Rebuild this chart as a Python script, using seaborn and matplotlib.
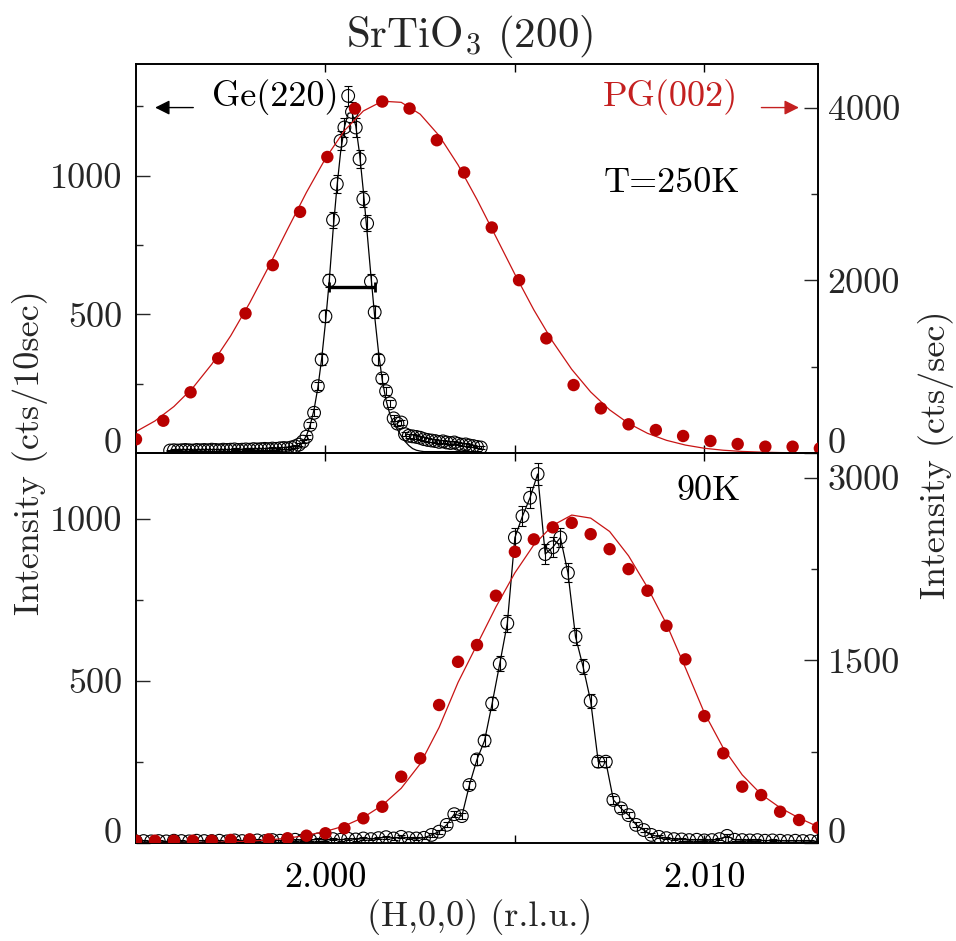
import numpy as np
import matplotlib
matplotlib.use("Agg")
import matplotlib.pyplot as plt
import seaborn as sns
from matplotlib.ticker import FixedLocator, FuncFormatter

# ---------------- data ----------------
# Top panel, T = 250 K
# Ge(220) analyser, cts/10sec (left axis), scan step 0.0001 from 1.9959 to 2.0041
ge250_x = np.round(np.arange(19959, 20042) * 1e-4, 4)
ge250_y = [9, 10, 9, 10, 11, 10, 9, 11, 10, 11,
           10, 12, 11, 10, 12, 11, 12, 13, 11, 12,
           13, 12, 14, 13, 14, 15, 14, 16, 15, 17, 18,
           17, 20, 24, 30, 41, 59, 101, 145, 241, 337,
           493, 622, 841, 970, 1126, 1174, 1288, 1230, 1174, 1060,
           916, 828, 619, 508, 337, 269, 223, 179, 125, 106,
           110, 68, 62,
           60, 58, 55, 50, 47, 45, 43, 40, 42, 38,
           36, 38, 33, 30, 31, 27, 25, 22, 20]
ge250_fit_x = [1.9959, 1.9986, 1.9988, 1.9990, 1.9991, 1.9992, 1.9993, 1.9994,
               1.9995, 1.9996, 1.9997, 1.9998, 1.9999, 2.0000, 2.0001, 2.0002,
               2.0003, 2.0004, 2.0005, 2.0006, 2.0007, 2.0008, 2.0009, 2.0010,
               2.0011, 2.0012, 2.0013, 2.0014, 2.0015, 2.0016, 2.0017, 2.0018,
               2.0019, 2.0020, 2.0021, 2.0022, 2.0023, 2.0024, 2.0025, 2.0026,
               2.0041]
ge250_fit_y = [5, 5, 6, 7, 10, 15, 24, 39,
               63, 102, 157, 236, 340, 470, 620, 800,
               955, 1085, 1175, 1225, 1228, 1180, 1080, 945,
               795, 640, 492, 365, 262, 190, 140, 105,
               85, 62, 42, 27, 16, 10, 7, 5,
               5]
# resolution (FWHM) bar of the Ge(220) peak
fwhm_center, fwhm_half, fwhm_level = 2.0007, 0.0006, 600

# PG(002) analyser, cts/sec (right axis)
pg250_x = [1.99500, 1.99572, 1.99644, 1.99717, 1.99789, 1.99861, 1.99933,
           2.00005, 2.00078, 2.00150, 2.00222, 2.00294, 2.00366, 2.00439,
           2.00511, 2.00583, 2.00655, 2.00727, 2.00800, 2.00872, 2.00944,
           2.01016, 2.01088, 2.01161, 2.01233, 2.01305]
pg250_y = [159, 374, 703, 1096, 1617, 2176, 2793, 3429, 3990, 4071,
           3990, 3623, 3249, 2612, 2002, 1328, 787, 517, 332, 266,
           197, 139, 104, 73, 73, 54]
pg250_fit_x = np.round(np.arange(39900, 40261, 10) * 5e-5, 4)
pg250_fit_y = [248, 371, 538, 755, 1029, 1358, 1738, 2156, 2592, 3020,
               3411, 3734, 3962, 4075, 4062, 3925, 3676, 3337, 2936, 2504,
               2070, 1658, 1289, 969, 707, 500, 343, 228, 147, 92,
               55, 32, 18, 10, 5, 3, 1]

# Bottom panel, T = 90 K
ge90_x = np.round(np.arange(9975, 10066) * 2e-4, 4)
ge90_y = [5, 6, 5, 6, 5, 7, 6, 5, 7, 6,
          6, 7, 5, 8, 6, 7, 8, 6, 9, 7,
          8, 10, 8, 9, 11, 9, 12, 10, 13, 11,
          14, 12, 15, 18, 14, 19, 15, 14, 16, 25,
          35, 56, 89, 83, 179, 258, 316, 431, 553, 678,
          943, 1009, 1066, 1139, 892, 913, 943, 834, 637, 544,
          438, 251, 251, 133, 107, 86, 56, 40, 25, 19,
          15, 12, 11, 9, 10, 8, 9, 12, 22, 10,
          9, 8, 9, 7, 8, 7, 6, 7, 6, 6, 5]
pg90_x = np.round(np.arange(3990, 4027) * 5e-4, 4)
pg90_y = [19, 19, 19, 19, 19, 25, 30, 30, 39, 60,
          80, 121, 203, 298, 545, 696, 1134, 1489, 1627, 2032,
          2393, 2495, 2594, 2631, 2538, 2415, 2251, 2073, 1785, 1509,
          1043, 737, 463, 394, 257, 189, 126]
pg90_fit_x = pg90_x
pg90_fit_y = [0, 1, 2, 3, 5, 9, 15, 25, 40, 62,
              95, 140, 210, 310, 450, 650, 950, 1320, 1630, 1940,
              2220, 2450, 2610, 2695, 2670, 2560, 2360, 2100, 1800, 1440,
              1070, 780, 560, 400, 290, 205, 134]

x_ticks = [2.000, 2.005, 2.010]
x_ticklabels = ["2.000", "", "2.010"]

# ---------------- style ----------------
sns.set_theme(style="ticks")
plt.rcParams["font.family"] = ["cmr10", "DejaVu Serif"]
plt.rcParams["mathtext.fontset"] = "cm"
plt.rcParams["axes.formatter.use_mathtext"] = True
plt.rcParams["axes.unicode_minus"] = False

RED = "#b80000"
RED_LINE = "#c81414"
FS = 26

W, H = 956, 941
fig = plt.figure(figsize=(W / 100, H / 100), dpi=100)
L, R = 136 / W, 818 / W
ax1 = fig.add_axes([L, 1 - 453 / H, R - L, (453 - 64) / H])
ax2 = fig.add_axes([L, 1 - 843 / H, R - L, (843 - 453) / H], sharex=ax1)
ax1r = ax1.twinx()
ax2r = ax2.twinx()

int_fmt = FuncFormatter(lambda v, p: f"{v:.0f}")


def draw_ge(ax, x, y, line_x, line_y):
    sns.lineplot(x=line_x, y=line_y, ax=ax, color="black", lw=0.9,
                 estimator=None, sort=False, zorder=2)
    ax.errorbar(x, y, yerr=np.sqrt(np.asarray(y, float)), fmt="none",
                ecolor="black", elinewidth=0.8, capsize=2.6, capthick=0.8,
                zorder=3)
    sns.scatterplot(x=x, y=y, ax=ax, marker="o", s=84, facecolor="none",
                    edgecolor="black", linewidth=0.8, zorder=4)


def draw_pg(ax, x, y, fx, fy):
    sns.lineplot(x=fx, y=fy, ax=ax, color=RED_LINE, lw=0.9,
                 estimator=None, sort=False, zorder=2)
    sns.scatterplot(x=x, y=y, ax=ax, marker="o", s=80, color=RED,
                    edgecolor="none", linewidth=0, zorder=3)


draw_ge(ax1, ge250_x, ge250_y, ge250_fit_x, ge250_fit_y)
ax1.errorbar([fwhm_center], [fwhm_level], xerr=[fwhm_half], fmt="none",
             ecolor="black", elinewidth=2.4, capsize=3.5, capthick=2.0, zorder=5)
draw_pg(ax1r, pg250_x, pg250_y, pg250_fit_x, pg250_fit_y)

draw_ge(ax2, ge90_x, ge90_y, ge90_x, ge90_y)
draw_pg(ax2r, pg90_x, pg90_y, pg90_fit_x, pg90_fit_y)

# ---------------- axes ----------------
ax1.set_xlim(1.995, 2.013)
ax1.set_ylim(0, 1403)
ax1r.set_ylim(0, 4506)
ax2.set_ylim(0, 1204)
ax2r.set_ylim(0, 3205)

for ax in (ax1, ax2, ax1r, ax2r):
    ax.set_xlabel("")
    ax.set_ylabel("")
    for sp in ax.spines.values():
        sp.set_linewidth(1.2)
        sp.set_color("black")

ax1.yaxis.set_major_locator(FixedLocator([0, 500, 1000]))
ax1.yaxis.set_minor_locator(FixedLocator([250, 750, 1250]))
ax2.yaxis.set_major_locator(FixedLocator([0, 500, 1000]))
ax2.yaxis.set_minor_locator(FixedLocator([250, 750]))
ax1r.yaxis.set_major_locator(FixedLocator([0, 2000, 4000]))
ax1r.yaxis.set_minor_locator(FixedLocator([1000, 3000]))
ax2r.yaxis.set_major_locator(FixedLocator([0, 1500, 3000]))
ax2r.yaxis.set_minor_locator(FixedLocator([750, 2250]))
for ax in (ax1, ax2, ax1r, ax2r):
    ax.yaxis.set_major_formatter(int_fmt)

ax2.xaxis.set_major_locator(FixedLocator(x_ticks))
ax2.set_xticklabels(x_ticklabels)

for ax in (ax1, ax2):
    ax.tick_params(axis="x", which="both", direction="in", top=True,
                   bottom=True, length=6, width=1, labelsize=FS, pad=14,
                   colors="black")
    ax.tick_params(axis="y", which="major", direction="in", left=True,
                   right=False, length=10, width=1, labelsize=FS, pad=10)
    ax.tick_params(axis="y", which="minor", direction="in", left=True,
                   right=False, length=5, width=1)
for ax in (ax1r, ax2r):
    ax.tick_params(axis="y", which="major", direction="in", right=True,
                   left=False, length=10, width=1, labelsize=FS, pad=7)
    ax.tick_params(axis="y", which="minor", direction="in", right=True,
                   left=False, length=5, width=1)
ax1.tick_params(axis="x", labelbottom=False)

# the zero labels sit a little higher, as in the original
for ax in (ax1, ax2):
    ax.yaxis.get_major_ticks()[0].label1.set_verticalalignment("baseline")
for ax in (ax1r, ax2r):
    ax.yaxis.get_major_ticks()[0].label2.set_verticalalignment("baseline")

# ---------------- annotations ----------------
ax1.text(0.1114, 0.915, "Ge(220)", transform=ax1.transAxes, fontsize=FS,
         ha="left", va="center", color="black")
ax1.annotate("", xy=(0.028, 0.888), xytext=(0.084, 0.888),
             xycoords="axes fraction", textcoords="axes fraction",
             arrowprops=dict(arrowstyle="-|>", color="black", lw=1.0,
                             mutation_scale=22, shrinkA=0, shrinkB=0))
ax1.text(0.883, 0.915, "PG(002)", transform=ax1.transAxes, fontsize=FS,
         ha="right", va="center", color="#c42020")
ax1.annotate("", xy=(0.972, 0.888), xytext=(0.917, 0.888),
             xycoords="axes fraction", textcoords="axes fraction",
             arrowprops=dict(arrowstyle="-|>", color="#c42020", lw=1.0,
                             mutation_scale=22, shrinkA=0, shrinkB=0))
ax1.text(0.886, 0.694, "T=250K", transform=ax1.transAxes, fontsize=FS,
         ha="right", va="center", color="black")
ax2.text(0.886, 0.901, "90K", transform=ax2.transAxes, fontsize=FS,
         ha="right", va="center", color="black")

fig.text(470 / W, 1 - 36 / H, "SrTiO$_3$ (200)", fontsize=31,
         ha="center", va="center")
fig.text(480 / W, 1 - 917 / H, "(H,0,0) (r.l.u.)", fontsize=FS,
         ha="center", va="center")
fig.text(30 / W, 1 - 453 / H, "Intensity (cts/10sec)", fontsize=FS,
         rotation=90, ha="center", va="center")
fig.text(936 / W, 1 - 455 / H, "Intensity (cts/sec)", fontsize=FS,
         rotation=90, ha="center", va="center")

fig.savefig("out.png", dpi=100, facecolor="white")
